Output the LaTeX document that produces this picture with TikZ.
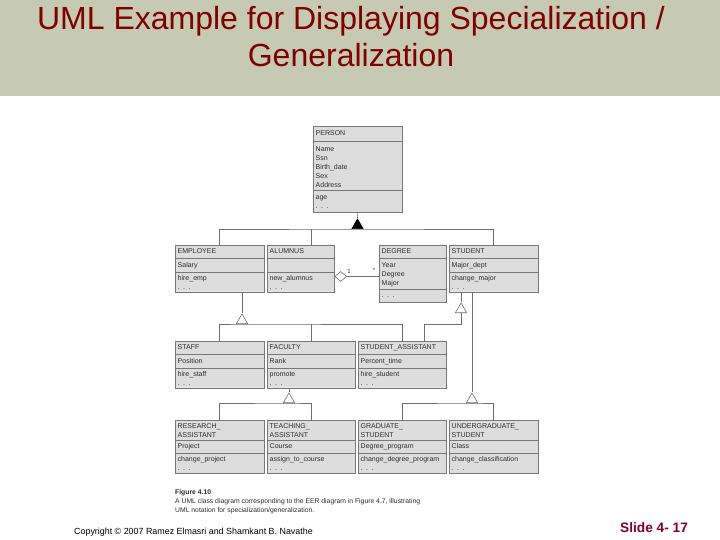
\documentclass[tikz,border=0pt]{standalone}
\usepackage{fontspec}
\setmainfont{Liberation Sans}
\usepackage{tikz}
\usetikzlibrary{shapes.multipart,shapes.geometric,calc}
\definecolor{bandclr}{RGB}{199,202,178}
\definecolor{titleclr}{RGB}{128,0,0}
\definecolor{slideclr}{RGB}{128,0,48}
\definecolor{boxfill}{RGB}{221,221,221}
\definecolor{boxline}{RGB}{120,120,120}
\definecolor{lineclr}{RGB}{110,110,110}
\definecolor{txtclr}{RGB}{45,45,45}
\tikzset{
  umlclass/.style={rectangle split, rectangle split parts=3,
    rectangle split ignore empty parts=false, draw=boxline, fill=boxfill,
    text=txtclr, text width=#1, align=left,
    inner xsep=2.5pt, inner ysep=2pt, font=\fontsize{7}{9}\selectfont\strut,
    anchor=north west},
  umlclass/.default=84pt,
  gline/.style={draw=lineclr, line width=0.6pt},
  gentri/.style={regular polygon, regular polygon sides=3, draw=lineclr,
    fill=white, minimum size=13pt, inner sep=0pt, line width=0.6pt},
  aggdiam/.style={diamond, draw=lineclr, fill=white, minimum width=12pt,
    minimum height=10pt, inner sep=0pt, line width=0.6pt},
  small/.style={font=\fontsize{6}{7}\selectfont, text=txtclr, inner sep=0pt}
}

\begin{document}
\begin{tikzpicture}[x=1pt,y=-1pt]
\fill[white] (0,0) rectangle (720,540);
\useasboundingbox (0,0) rectangle (720,540);
\fill[bandclr] (0,0) rectangle (720,96);
\node[anchor=north, align=center, inner sep=0pt, text=titleclr,
  font=\fontsize{32}{37}\selectfont] (title) at (351,6.5)
  {UML Example for Displaying Specialization /\\Generalization};

% classes
\node[umlclass, inner ysep=3pt] (person) at (313,126)
  {PERSON\nodepart{two}Name\\Ssn\\Birth\_date\\Sex\\Address\nodepart{three}age\\. . .};

\node[umlclass] (employee) at (175,245)
  {EMPLOYEE\nodepart{two}Salary\nodepart{three}hire\_emp\\. . .};
\node[umlclass=62pt] (alumnus) at (267,245)
  {ALUMNUS\nodepart{two}\vphantom{Salary}\nodepart{three}new\_alumnus\\. . .};
\node[umlclass=62pt] (degree) at (379,245)
  {DEGREE\nodepart{two}Year\\Degree\\Major\nodepart{three}. . .};
\node[umlclass] (student) at (449,245)
  {STUDENT\nodepart{two}Major\_dept\nodepart{three}change\_major\\. . .};

\node[umlclass] (staff) at (175,341)
  {STAFF\nodepart{two}Position\nodepart{three}hire\_staff\\. . .};
\node[umlclass=83pt] (faculty) at (267,341)
  {FACULTY\nodepart{two}Rank\nodepart{three}promote\\. . .};
\node[umlclass=83pt] (studasst) at (358,341)
  {STUDENT\_ASSISTANT\nodepart{two}Percent\_time\nodepart{three}hire\_student\\. . .};

\node[umlclass] (ra) at (175,420)
  {RESEARCH\_\\ASSISTANT\nodepart{two}Project\nodepart{three}change\_project\\. . .};
\node[umlclass=83pt] (ta) at (267,420)
  {TEACHING\_\\ASSISTANT\nodepart{two}Course\nodepart{three}assign\_to\_course\\. . .};
\node[umlclass=83pt] (grad) at (358,420)
  {GRADUATE\_\\STUDENT\nodepart{two}Degree\_program\nodepart{three}change\_degree\_program\\. . .};
\node[umlclass] (ugrad) at (449,420)
  {UNDERGRADUATE\_\\STUDENT\nodepart{two}Class\nodepart{three}change\_classification\\. . .};

% person tree
\node[gentri, fill=black, draw=black, anchor=south] (t1) at (357.5,229) {};
\draw[gline] (person.south) -- (t1.north);
\draw[gline] (employee.north) |- (t1.south) -| (student.north);
\coordinate (alumtop) at ($(alumnus.north)+(11,0)$);
\draw[gline] (alumtop) -- (alumtop |- t1.south);

% employee tree
\node[gentri, anchor=south] (t2) at (242,324) {};
\draw[gline] (t2.north |- employee.south) -- (t2.north);
\draw[gline] (staff.north) |- (t2.south) -| (studasst.north);
\draw[gline] (faculty.north) -- (faculty.north |- t2.south);

% student trees
\node[gentri, anchor=south] (t3) at (461,313) {};
\draw[gline] (t3.north |- student.south) -- (t3.north);
\coordinate (sajoin) at ($(studasst.north)+(22,0)$);
\draw[gline] (t3.south) -- ++(0,11) -| (sajoin);

\node[gentri, anchor=south] (t4) at (472,403) {};
\draw[gline] (t4.north |- student.south) -- (t4.north);
\draw[gline] (grad.north) |- (t4.south) -| (ugrad.north);

\node[gentri, anchor=south] (t5) at (289,403) {};
\draw[gline] (t5.north |- faculty.south) -- (t5.north);
\draw[gline] (ra.north) |- (t5.south) -| (ta.north);

% aggregation
\node[aggdiam, anchor=west] (agg) at ($(alumnus.east)+(0,8)$) {};
\draw[gline] (agg.east) -- (agg.east -| degree.west);
\node[small] (mone) at ($(agg.east)+(2,-5)$) {1};
\node[small] (mmany) at ($(degree.west)+(-5,-3)$) {*};

% caption and footer
\node[anchor=north west, align=left, inner sep=0pt, text=txtclr,
  font=\fontsize{6.8}{9}\selectfont] (caption) at (175,489)
  {\textbf{Figure 4.10}\\A UML class diagram corresponding to the EER diagram in Figure 4.7, illustrating\\UML notation for specialization/generalization.};
\node[anchor=base west, inner sep=0pt, font=\fontsize{8.9}{10}\selectfont]
  (copy) at (74,534) {Copyright \copyright{} 2007 Ramez Elmasri and Shamkant B. Navathe};
\node[anchor=base west, inner sep=0pt, text=slideclr,
  font=\bfseries\fontsize{13.7}{16}\selectfont] (slide) at (620,532) {Slide 4- 17};
\end{tikzpicture}
\end{document}
